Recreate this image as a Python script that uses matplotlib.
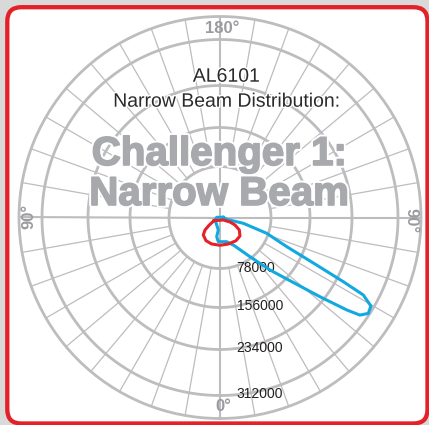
import numpy as np
import matplotlib.pyplot as plt
import matplotlib.patheffects as pe
from matplotlib.patches import FancyBboxPatch
from matplotlib.transforms import IdentityTransform

# intensity values; angle in degrees from nadir (+ = right half)
red_angle = [-61.9, -55.0, -50.2, -43.7, -31.1, -17.4, 0.0, 17.4, 34.6, 47.2,
             57.1, 63.4, 65.8, 52.9, -61.9]
red_value = [10400, 20000, 29800, 37000, 41400, 42500, 42500, 42500, 43100, 41600,
             35200, 25700, 16800, 6300, 10400]

blue_angle = [93.5, 75.0, 76.0, 71.3, 66.4, 63.8, 62.5, 61.6, 59.6, 57.1,
              55.1, 53.9, 51.6, 43.6, 37.4, 26.6, 15.5, -4.0, -9.8, -7.7,
              -23.7, -63.4, -93.5, 93.5]
blue_value = [5000, 10600, 36700, 75400, 121600, 188900, 245900, 286400, 306900, 309600,
              299400, 276200, 225800, 121000, 75600, 47900, 38400, 37100, 29800, 19300,
              12500, 8500, 5000, 5000]

ring_values = [78000, 156000, 234000, 312000]
ring_labels = ['78000', '156000', '234000', '312000']
r_max = 352000

# the printed grid is not evenly spaced, so the radial scale is piecewise linear
scale_v = [0, 78000, 156000, 234000, 312000, 352000]
scale_px = [0, 51, 90, 132, 178, 201]

GRID = '#bdbdbf'
W, H = 429, 425

fig = plt.figure(figsize=(W / 100, H / 100), dpi=100, facecolor='#d9d9d9')
plt.rcParams['font.family'] = ['Liberation Sans', 'DejaVu Sans']

frame = FancyBboxPatch((7.3, 1.5), 420.2, 416.3, boxstyle='round,pad=0,rounding_size=14',
                       transform=IdentityTransform(), fc='white', ec='#e42128', lw=3.1, zorder=-1)
fig.add_artist(frame)

ax = fig.add_axes([19 / W, 6.5 / H, 402 / W, 402 / H], projection='polar')
ax.set_facecolor('none')
ax.set_theta_zero_location('S')
ax.set_theta_direction(1)
ax.set_rscale('function', functions=(lambda v: np.interp(v, scale_v, scale_px),
                                      lambda p: np.interp(p, scale_px, scale_v)))
ax.set_ylim(0, r_max)
ax.set_xticks([])
ax.set_yticks([])
ax.grid(False)
ax.spines['polar'].set_color(GRID)
ax.spines['polar'].set_linewidth(2)

th = np.linspace(0, 2 * np.pi, 361)
for v in ring_values:
    ax.plot(th, np.full_like(th, v), color=GRID, lw=2, zorder=1)
for a in range(0, 360, 10):
    t = np.deg2rad(a)
    if a % 90 == 0:
        ax.plot([t, t], [0, r_max], color=GRID, lw=1.5, zorder=1)
    else:
        ax.plot([t, t], [ring_values[0], r_max], color=GRID, lw=0.9, zorder=1)

for v, lab in zip(ring_values, ring_labels):
    ax.annotate(lab, xy=(0, v), xytext=(16.7, 1), textcoords='offset pixels',
                ha='left', va='center', fontsize=10, color='#231f20', zorder=4)

lab_kw = dict(textcoords='offset pixels', ha='center', va='center', fontsize=12,
              fontweight='bold', color='#9a9b9e', zorder=4)
ax.annotate('180°', xy=(np.pi, 331000), xytext=(2.5, 0), **lab_kw)
ax.annotate('0°', xy=(0, 331000), xytext=(3.5, 0), **lab_kw)
ax.annotate('90°', xy=(-np.pi / 2, 334000), xytext=(0, 1.5), rotation=90, **lab_kw)
ax.annotate('90°', xy=(np.pi / 2, 334000), xytext=(0, -3), rotation=-90, **lab_kw)

ax.plot(np.deg2rad(blue_angle), blue_value, color='#12a8e0', lw=2.2, zorder=5,
        clip_on=False, solid_joinstyle='round')
ax.plot(np.deg2rad(red_angle), red_value, color='#e42128', lw=2.2, zorder=6,
        clip_on=False, solid_joinstyle='round')

halo = [pe.withStroke(linewidth=2, foreground='white')]
fig.text(226.5 / W, 1 - 81.7 / H, 'AL6101', ha='center', va='baseline', fontsize=14,
         color='#2a2a2a', path_effects=halo)
fig.text(227.5 / W, 1 - 106.7 / H, 'Narrow Beam Distribution:', ha='center', va='baseline',
         fontsize=14, color='#2a2a2a', path_effects=halo)

big_fx = [pe.withStroke(linewidth=4, foreground='white'),
          pe.withStroke(linewidth=1.2, foreground='#a7a9ac')]
fig.text(219 / W, 1 - 165 / H, 'Challenger 1:', ha='center', va='baseline', fontsize=29,
         fontweight='bold', color='#a7a9ac', path_effects=big_fx)
fig.text(219 / W, 1 - 205 / H, 'Narrow Beam', ha='center', va='baseline', fontsize=29,
         fontweight='bold', color='#a7a9ac', path_effects=big_fx)

fig.savefig('out.png', dpi=100)
